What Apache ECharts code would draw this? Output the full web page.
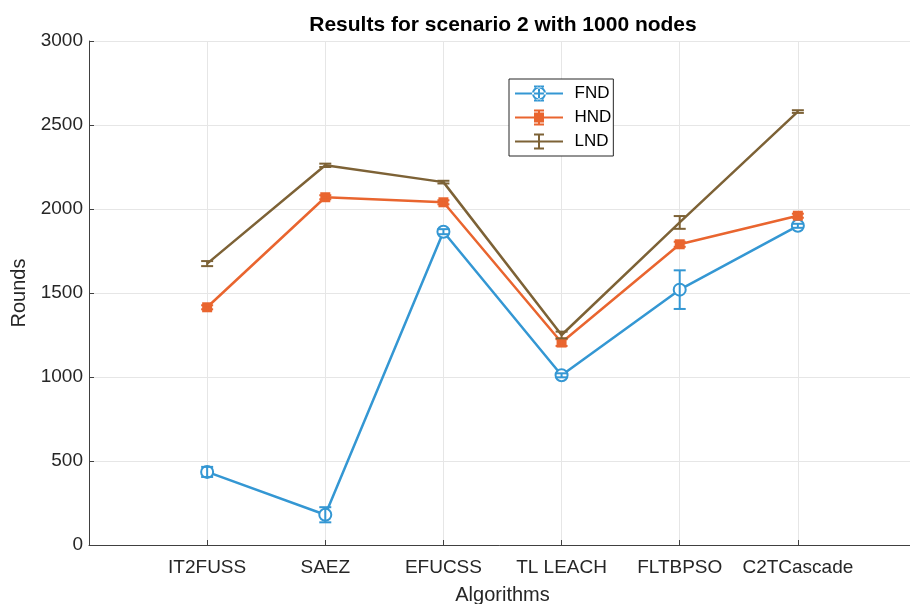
<!DOCTYPE html>
<html><head><meta charset="utf-8">
<script src="https://cdn.jsdelivr.net/npm/echarts@6/dist/echarts.min.js"></script>
<style>html,body{margin:0;padding:0;background:#fff}#c{width:910px;height:604px}</style>
</head><body><div id="c"></div>
<script>
const categories = ['IT2FUSS','SAEZ','EFUCSS','TL LEACH','FLTBPSO','C2TCascade'];
const fndValues = [435, 180, 1865, 1010, 1520, 1900];
const fndErrors = [30, 45, 15, 12, 115, 12];
const hndValues = [1415, 2070, 2040, 1205, 1790, 1960];
const hndErrors = [12, 12, 12, 20, 15, 12];
const lndValues = [1675, 2260, 2160, 1250, 1920, 2580];
const lndErrors = [15, 10, 8, 20, 38, 8];
const yTicks = [0, 500, 1000, 1500, 2000, 2500, 3000];

const colors = {FND:'#3497d3', HND:'#e9652f', LND:'#7d6236'};
const font = 'Liberation Sans, Arial, Helvetica, sans-serif';

function pts(vals){ return vals.map((v,i)=>[i+1, v]); }
function errData(vals, errs){ return vals.map((v,i)=>[i+1, v-errs[i], v+errs[i]]); }
function errSeries(name, vals, errs){
  return {
    type:'custom', name: name, z: 5,
    data: errData(vals, errs),
    renderItem: function(params, api){
      const x = api.value(0);
      const lo = api.coord([x, api.value(1)]);
      const hi = api.coord([x, api.value(2)]);
      const hw = 6;
      const st = {stroke: colors[name], lineWidth: 2};
      return {type:'group', children:[
        {type:'line', shape:{x1:lo[0],y1:lo[1],x2:hi[0],y2:hi[1]}, style:st},
        {type:'line', shape:{x1:lo[0]-hw,y1:lo[1],x2:lo[0]+hw,y2:lo[1]}, style:st},
        {type:'line', shape:{x1:hi[0]-hw,y1:hi[1],x2:hi[0]+hw,y2:hi[1]}, style:st}
      ]};
    },
    tooltip:{show:false}
  };
}

// legend glyphs: line + errorbar (+ marker), in a 48x16 box
const baseGlyph = 'M0 7 L48 7 L48 9 L0 9 Z M23 0 L25 0 L25 16 L23 16 Z M19 0 L29 0 L29 2 L19 2 Z M19 14 L29 14 L29 16 L19 16 Z';
const ringGlyph = ' M31 8 A7 7 0 1 0 17 8 A7 7 0 1 0 31 8 Z M29 8 A5 5 0 1 1 19 8 A5 5 0 1 1 29 8 Z';
const squareGlyph = ' M19 3 L29 3 L29 13 L19 13 Z';

const chart = echarts.init(document.getElementById('c'), null, {renderer:'canvas'});
chart.setOption({
  animation:false,
  backgroundColor:'#fff',
  title:{text:'Results for scenario 2 with 1000 nodes', left:498, top:10, textAlign:'center',
    textStyle:{fontFamily:font, fontWeight:'bold', fontSize:21, color:'#000'}},
  grid:{left:89, top:41, width:827, height:504, outerBoundsMode:'none', containLabel:false},
  legend:{
    left:509, top:79, orient:'vertical', itemGap:7, itemWidth:49, itemHeight:16,
    padding:[6,2,6,6], borderColor:'#262626', borderWidth:1, backgroundColor:'#fff',
    data:[
      {name:'FND', icon:'path://' + baseGlyph + ringGlyph, itemStyle:{color:colors.FND, borderWidth:0}},
      {name:'HND', icon:'path://' + baseGlyph + squareGlyph, itemStyle:{color:colors.HND, borderWidth:0}},
      {name:'LND', icon:'path://' + baseGlyph, itemStyle:{color:colors.LND, borderWidth:0}}
    ],
    textStyle:{fontFamily:font, fontSize:17, color:'#000', padding:[0,0,0,6]}
  },
  xAxis:{
    type:'value', min:0, max:7, interval:1,
    name:'Algorithms', nameLocation:'middle', nameGap:40,
    nameTextStyle:{fontFamily:font, fontSize:20, color:'#262626'},
    axisLine:{show:true, lineStyle:{color:'#404040', width:1}},
    axisTick:{show:true, inside:true, length:5, lineStyle:{color:'#404040'}},
    axisLabel:{fontFamily:font, fontSize:19, color:'#262626', margin:13,
      formatter:function(v){ return (v>=1 && v<=categories.length) ? categories[v-1] : ''; }},
    splitLine:{show:true, lineStyle:{color:'#e6e6e6', width:1}}
  },
  yAxis:{
    type:'value', min:yTicks[0], max:yTicks[yTicks.length-1], interval:500,
    name:'Rounds', nameLocation:'middle', nameGap:58, nameRotate:90,
    nameTextStyle:{fontFamily:font, fontSize:20, color:'#262626'},
    axisLine:{show:true, lineStyle:{color:'#404040', width:1}},
    axisTick:{show:true, inside:true, length:5, lineStyle:{color:'#404040'}},
    axisLabel:{fontFamily:font, fontSize:19, color:'#262626', margin:6,
      formatter:function(v){ return String(v); }},
    splitLine:{show:true, lineStyle:{color:'#e6e6e6', width:1}}
  },
  series:[
    {type:'line', name:'FND', data:pts(fndValues), color:colors.FND, z:4,
      lineStyle:{width:2.5}, symbol:'emptyCircle', symbolSize:12,
      itemStyle:{color:colors.FND, borderColor:colors.FND, borderWidth:2.5}},
    errSeries('FND', fndValues, fndErrors),
    {type:'line', name:'HND', data:pts(hndValues), color:colors.HND, z:4,
      lineStyle:{width:2.5}, symbol:'rect', symbolSize:10,
      itemStyle:{color:colors.HND}},
    errSeries('HND', hndValues, hndErrors),
    {type:'line', name:'LND', data:pts(lndValues), color:colors.LND, z:4,
      lineStyle:{width:2.5}, symbol:'none'},
    errSeries('LND', lndValues, lndErrors)
  ]
});
</script></body></html>
